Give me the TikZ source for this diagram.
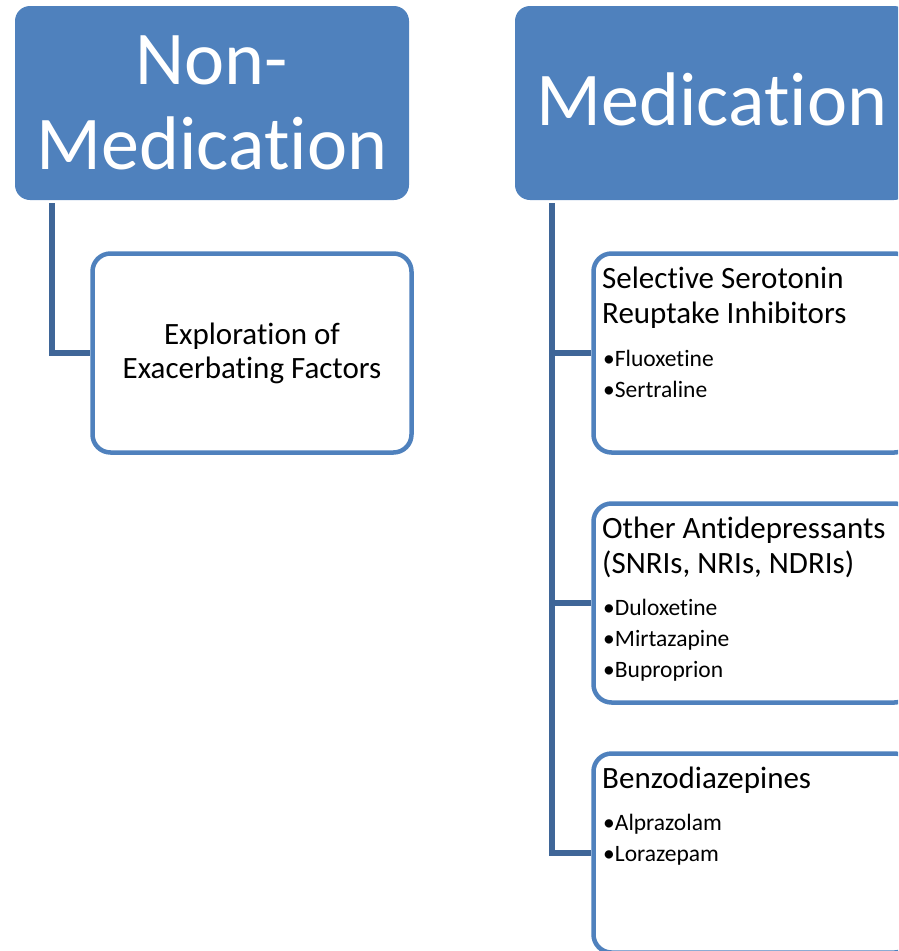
\documentclass[tikz,border=0pt]{standalone}
\usepackage{fontspec}
\setmainfont{Carlito}[Ligatures=NoCommon]
\definecolor{headblue}{HTML}{4F81BD}
\definecolor{linkblue}{HTML}{3F6698}

\begin{document}
\begin{tikzpicture}[x=1pt, y=-1pt,
		headbox/.style={fill=headblue, rounded corners=15pt, minimum width=394pt, minimum height=194pt,
			inner sep=0pt, text=white, align=center, font=\fontsize{76}{85}\selectfont},
		leafbox/.style={draw=headblue, fill=white, line width=4.5pt, rounded corners=18pt,
			minimum width=319pt, minimum height=199pt, inner sep=0pt, font=\fontsize{31}{34}\selectfont},
		link/.style={draw=linkblue, line width=5.5pt},
		titleline/.style={anchor=base west, inner sep=0pt, font=\fontsize{31}{34}\selectfont},
		drugline/.style={anchor=base west, inner sep=0pt, font=\fontsize{23.5}{28}\selectfont}]
	% Page frame; the right column runs past the edge.
	\useasboundingbox (0,0) rectangle (898,951);
	\clip (0,0) rectangle (898,951);

	% Non-medication branch.
	\node[headbox] (nonmed) at (212,103) {Non-\\Medication};
	\node[leafbox, align=center] (explore) at (252,353) {Exploration of\\Exacerbating Factors};
	\coordinate (nonmedtrunk) at ([shift={(37,3)}]nonmed.south west);
	\draw[link] (nonmedtrunk) |- (explore.west);

	% Medication branch with its three drug classes.
	\node[headbox, minimum width=394pt, text height=53pt, text depth=9pt] (med) at (712,103) {Medication};
	\node[leafbox] (ssri) at (753,353) {};
	\node[leafbox] (other) at (753,603) {};
	\node[leafbox] (benzo) at (753,853) {};
	\coordinate (medtrunk) at ([shift={(37,3)}]med.south west);
	\draw[link] (medtrunk) |- (benzo.west);
	\foreach \leaf in {ssri,other} {
		\draw[link] (\leaf.west) -- (\leaf.west -| medtrunk);
	}

	% Class names and the drugs listed under them.
	\foreach \txt [count=\i] in {Selective Serotonin, Reuptake Inhibitors}
		\node[titleline] (ssri-t\i) at (602,{288+35*(\i-1)}) {\txt};
	\foreach \txt [count=\i] in {Fluoxetine, Sertraline}
		\node[drugline] (ssri-d\i) at (603,{366+31*(\i-1)}) {\textbullet\txt};

	\foreach \txt [count=\i] in {Other Antidepressants, {(SNRIs, NRIs, NDRIs)}}
		\node[titleline] (other-t\i) at (602,{538+35*(\i-1)}) {\txt};
	\foreach \txt [count=\i] in {Duloxetine, Mirtazapine, Buproprion}
		\node[drugline] (other-d\i) at (603,{615+31*(\i-1)}) {\textbullet\txt};

	\node[titleline] (benzo-t1) at (602,788) {Benzodiazepines};
	\foreach \txt [count=\i] in {Alprazolam, Lorazepam}
		\node[drugline] (benzo-d\i) at (603,{830+31*(\i-1)}) {\textbullet\txt};
\end{tikzpicture}
\end{document}
